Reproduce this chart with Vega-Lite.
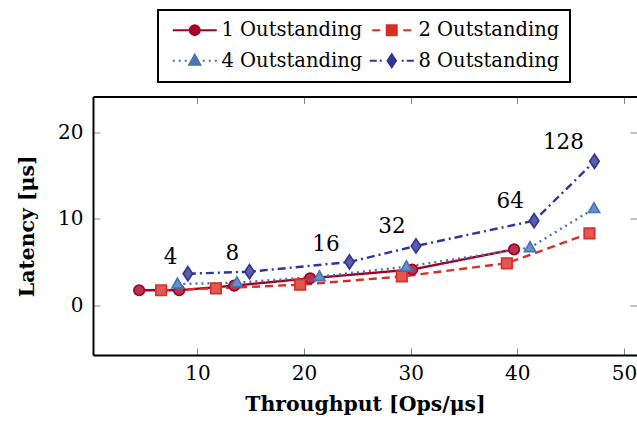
{
  "$schema": "https://vega.github.io/schema/vega-lite/v6.json",
  "width": 544,
  "height": 258.5,
  "autosize": "none",
  "padding": {"left": 93, "top": 96.5, "right": 0, "bottom": 70},
  "background": "white",
  "config": {
    "view": {"stroke": null},
    "font": "DejaVu Serif",
    "axis": {
      "grid": false,
      "labelFont": "DejaVu Serif",
      "labelFontSize": 20,
      "labelColor": "black",
      "titleFont": "DejaVu Serif",
      "titleFontSize": 20.4,
      "titleFontWeight": "bold",
      "titleColor": "black",
      "domainColor": "black",
      "domainWidth": 2,
      "tickColor": "#888888",
      "tickWidth": 1,
      "tickSize": -7
    },
    "legend": {
      "orient": "none",
      "legendX": 65,
      "legendY": -86.5,
      "direction": "horizontal",
      "columns": 2,
      "columnPadding": 2,
      "rowPadding": 10,
      "padding": 10,
      "strokeColor": "black",
      "strokeWidth": 2,
      "labelFont": "DejaVu Serif",
      "labelFontSize": 19.5,
      "labelColor": "black",
      "labelLimit": 300,
      "symbolOffset": 17,
      "labelOffset": 17,
      "symbolSize": 100,
      "symbolStrokeWidth": 2,
      "symbolOpacity": 1
    }
  },
  "datasets": {
    "pts": [
      {"series": "1 Outstanding", "x": 4.53, "y": 1.78},
      {"series": "1 Outstanding", "x": 8.28, "y": 1.78},
      {"series": "1 Outstanding", "x": 13.45, "y": 2.31},
      {"series": "1 Outstanding", "x": 20.57, "y": 3.16},
      {"series": "1 Outstanding", "x": 30.14, "y": 4.17},
      {"series": "1 Outstanding", "x": 39.7, "y": 6.5},
      {"series": "2 Outstanding", "x": 6.59, "y": 1.78},
      {"series": "2 Outstanding", "x": 11.73, "y": 2.0},
      {"series": "2 Outstanding", "x": 19.63, "y": 2.42},
      {"series": "2 Outstanding", "x": 29.17, "y": 3.37},
      {"series": "2 Outstanding", "x": 39.02, "y": 4.89},
      {"series": "2 Outstanding", "x": 46.77, "y": 8.35},
      {"series": "4 Outstanding", "x": 8.12, "y": 2.5},
      {"series": "4 Outstanding", "x": 13.7, "y": 2.65},
      {"series": "4 Outstanding", "x": 21.44, "y": 3.35},
      {"series": "4 Outstanding", "x": 29.6, "y": 4.5},
      {"series": "4 Outstanding", "x": 41.2, "y": 6.7},
      {"series": "4 Outstanding", "x": 47.2, "y": 11.2},
      {"series": "8 Outstanding", "x": 9.1, "y": 3.69},
      {"series": "8 Outstanding", "x": 14.88, "y": 3.92},
      {"series": "8 Outstanding", "x": 24.26, "y": 5.04},
      {"series": "8 Outstanding", "x": 30.5, "y": 6.89},
      {"series": "8 Outstanding", "x": 41.58, "y": 9.8},
      {"series": "8 Outstanding", "x": 47.24, "y": 16.65}
    ],
    "labels": [
      {"x": 7.47, "y": 5.47, "label": "4"},
      {"x": 13.28, "y": 5.96, "label": "8"},
      {"x": 22.05, "y": 7.0, "label": "16"},
      {"x": 28.24, "y": 9.08, "label": "32"},
      {"x": 39.33, "y": 12.0, "label": "64"},
      {"x": 44.33, "y": 18.73, "label": "128"}
    ]
  },
  "resolve": {"axis": {"x": "independent", "y": "independent"}, "scale": {"shape": "independent", "color": "independent"}},
  "layer": [
    {
      "data": {"name": "pts"},
      "mark": {"type": "line", "strokeWidth": 2.4},
      "encoding": {
        "x": {"field": "x", "type": "quantitative",
          "scale": {"domain": [0.2, 51.23], "nice": false, "zero": false},
          "axis": {"orient": "bottom", "values": [10, 20, 30, 40, 50], "title": "Throughput [Ops/μs]", "labelPadding": 15, "titlePadding": 11, "labelFlush": false}},
        "y": {"field": "y", "type": "quantitative",
          "scale": {"domain": [-5.69, 24.13], "nice": false, "zero": false},
          "axis": {"orient": "left", "values": [0, 10, 20], "title": "Latency [μs]", "labelPadding": 17, "titlePadding": 20, "labelFlush": false}},
        "color": {"field": "series", "type": "nominal",
          "scale": {"domain": ["1 Outstanding", "2 Outstanding", "4 Outstanding", "8 Outstanding"], "range": ["#a50026", "#d73027", "#4575b4", "#313695"]},
          "legend": null},
        "strokeDash": {"field": "series", "type": "nominal",
          "scale": {"domain": ["1 Outstanding", "2 Outstanding", "4 Outstanding", "8 Outstanding"], "range": [[1, 0], [8, 5], [2, 4], [8, 4, 2, 4]]},
          "legend": null}
      }
    },
    {
      "data": {"name": "pts"},
      "mark": {"type": "point", "filled": true, "size": 110, "strokeWidth": 1.7, "opacity": 1},
      "encoding": {
        "x": {"field": "x", "type": "quantitative", "axis": null},
        "y": {"field": "y", "type": "quantitative", "axis": null},
        "shape": {"field": "series", "type": "nominal",
          "scale": {"domain": ["1 Outstanding", "2 Outstanding", "4 Outstanding", "8 Outstanding"], "range": ["circle", "square", "M0,-1.1L1.05,0.75L-1.05,0.75Z", "M0,-1.35L0.9,0L0,1.35L-0.9,0Z"]},
          "legend": null},
        "fill": {"field": "series", "type": "nominal",
          "scale": {"domain": ["1 Outstanding", "2 Outstanding", "4 Outstanding", "8 Outstanding"], "range": ["#b73351", "#df5952", "#6a91c3", "#5a5eaa"]},
          "legend": null},
        "stroke": {"field": "series", "type": "nominal",
          "scale": {"domain": ["1 Outstanding", "2 Outstanding", "4 Outstanding", "8 Outstanding"], "range": ["#a50026", "#d73027", "#4575b4", "#313695"]},
          "legend": null}
      }
    },
    {
      "data": {"name": "pts"},
      "transform": [{"filter": "false"}],
      "mark": {"type": "point", "filled": false, "size": 100, "strokeWidth": 2},
      "encoding": {
        "x": {"field": "x", "type": "quantitative", "axis": null},
        "y": {"field": "y", "type": "quantitative", "axis": null},
        "color": {"field": "series", "type": "nominal",
          "scale": {"domain": ["1 Outstanding", "2 Outstanding", "4 Outstanding", "8 Outstanding"], "range": ["#a50026", "#d73027", "#4575b4", "#313695"]},
          "legend": {"title": null}},
        "shape": {"field": "series", "type": "nominal",
          "scale": {"domain": ["1 Outstanding", "2 Outstanding", "4 Outstanding", "8 Outstanding"], "range": [
            "M-4.4,0L-1,0M1,0L4.4,0M1,0A1,1,0,1,1,-1,0A1,1,0,1,1,1,0M0.6,0A0.6,0.6,0,1,1,-0.6,0A0.6,0.6,0,1,1,0.6,0M0.2,0A0.2,0.2,0,1,1,-0.2,0A0.2,0.2,0,1,1,0.2,0",
            "M-3.9,0L-2.3,0M2.3,0L3.9,0M-1,-1L1,-1L1,1L-1,1ZM-0.6,-0.6L0.6,-0.6L0.6,0.6L-0.6,0.6ZM-0.2,-0.2L0.2,-0.2L0.2,0.2L-0.2,0.2Z",
            "M-4.4,0L-4,0M-3.2,0L-2.8,0M-2,0L-1.6,0M1.6,0L2,0M2.8,0L3.2,0M4,0L4.4,0M0,-1.2L1.1,0.8L-1.1,0.8ZM0,-0.6L0.6,0.5L-0.6,0.5ZM0,-0.07L0.17,0.23L-0.17,0.23Z",
            "M-4.4,0L-3,0M-2.4,0L-2,0M2,0L2.4,0M3,0L4.4,0M0,-1.3L0.85,0L0,1.3L-0.85,0ZM0,-0.8L0.5,0L0,0.8L-0.5,0ZM0,-0.3L0.15,0L0,0.3L-0.15,0Z"
          ]},
          "legend": {"title": null}}
      }
    },
    {
      "data": {"name": "labels"},
      "mark": {"type": "text", "font": "DejaVu Serif", "fontSize": 21.5, "align": "center", "baseline": "middle", "color": "black"},
      "encoding": {
        "x": {"field": "x", "type": "quantitative",
          "axis": {"orient": "top", "values": [10, 20, 30, 40, 50], "labels": false, "title": null, "domain": true}},
        "y": {"field": "y", "type": "quantitative",
          "axis": {"orient": "right", "values": [0, 10, 20], "labels": false, "title": null, "domain": false}},
        "text": {"field": "label"}
      }
    }
  ]
}
